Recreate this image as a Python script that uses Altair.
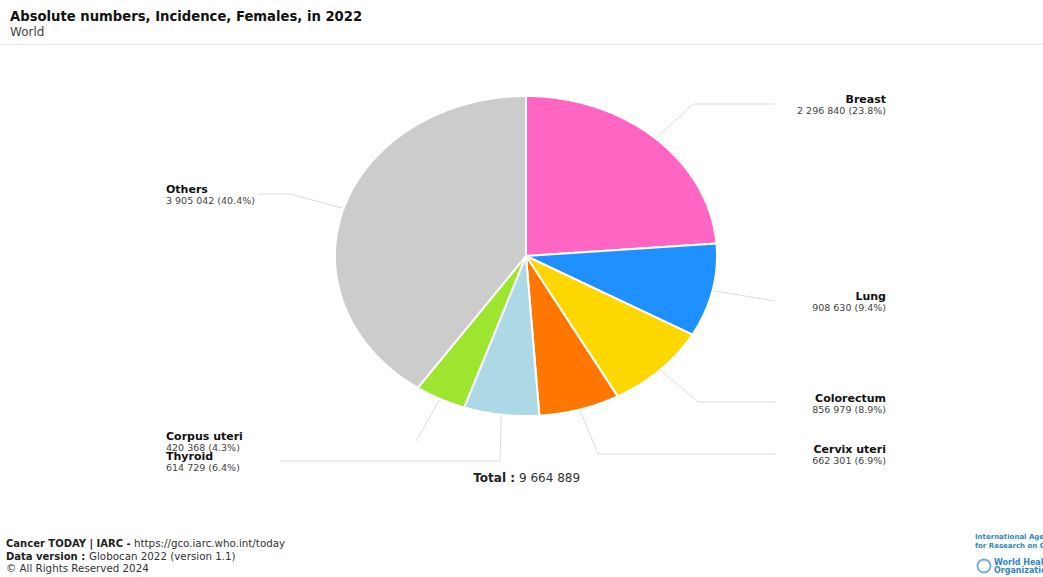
import altair as alt
import pandas as pd

# ---------------- data ----------------
sites = ["Breast", "Lung", "Colorectum", "Cervix uteri", "Thyroid", "Corpus uteri", "Others"]
cases = [2296840, 908630, 856979, 662301, 614729, 420368, 3905042]
colors = ["#ff66c4", "#1e90ff", "#ffd700", "#ff7700", "#add8e6", "#9de52f", "#cccccc"]

total = sum(cases)
value_labels = [f"{v:,}".replace(",", " ") + f" ({v / total * 100:.1f}%)" for v in cases]
total_label = f"{total:,}".replace(",", " ")

# ---------------- layout (pixels) ----------------
W, H = 1043, 577
CX, CY, RX, RY = 526, 256, 191, 160
label_side = ["right", "right", "right", "right", "left", "left", "left"]
label_x = [886, 886, 886, 886, 166, 166, 166]
label_y = [100, 297, 399, 450, 457, 437, 190]
elbow_x = [693, 775, 698, 598, 500, 416, 290]
elbow_y = [104, 301, 402, 454, 461, 441, 194]
end_x = [775, 775, 775, 775, 280, 416, 258]
end_y = [104, 301, 402, 454, 461, 441, 194]

FONT = "DejaVu Sans"

df = pd.DataFrame({
    "site": sites, "cases": cases, "order": list(range(len(sites))),
    "vlabel": value_labels, "side": label_side,
    "lx": label_x, "ly": label_y,
    "ex": elbow_x, "ey": elbow_y, "fx": end_x, "fy": end_y,
})
df["ly2"] = df["ly"] + 11

X = alt.X("px:Q", scale=alt.Scale(domain=[0, W]), axis=None)
Y = alt.Y("py:Q", scale=alt.Scale(domain=[0, H], reverse=True), axis=None)

base = alt.Chart(df).transform_window(
    cum="sum(cases)", sort=[alt.SortField("order")], frame=[None, 0]
).transform_joinaggregate(
    tot="sum(cases)"
).transform_calculate(
    a0="2*PI*(datum.cum - datum.cases)/datum.tot",
    a1="2*PI*datum.cum/datum.tot",
)

slices = base.transform_calculate(
    step="sequence(-1, 121)"
).transform_flatten(["step"]).transform_calculate(
    ang="datum.a0 + (datum.a1 - datum.a0) * max(datum.step, 0) / 120",
    px=f"datum.step < 0 ? {CX} : {CX} + {RX} * sin(datum.ang)",
    py=f"datum.step < 0 ? {CY} : {CY} - {RY} * cos(datum.ang)",
).mark_line(
    filled=True, interpolate="linear-closed", stroke="white",
    strokeWidth=2, strokeJoin="round"
).encode(
    x=X, y=Y,
    fill=alt.Fill("site:N", scale=alt.Scale(domain=sites, range=colors), legend=None),
    detail="site:N",
    order=alt.Order("step:Q"),
)

leaders = base.transform_calculate(
    mid="(datum.a0 + datum.a1) / 2",
    pt="sequence(0, 3)",
).transform_flatten(["pt"]).transform_calculate(
    px=f"datum.pt == 0 ? {CX} + {RX} * sin(datum.mid) : (datum.pt == 1 ? datum.ex : datum.fx)",
    py=f"datum.pt == 0 ? {CY} - {RY} * cos(datum.mid) : (datum.pt == 1 ? datum.ey : datum.fy)",
).mark_line(color="#dcdcdc", strokeWidth=1).encode(
    x=X, y=Y, detail="site:N", order=alt.Order("pt:Q")
)

def side_labels(side, align):
    src = alt.Chart(df).transform_filter(alt.datum.side == side)
    names = src.mark_text(
        align=align, baseline="middle", font=FONT, fontSize=11,
        fontWeight="bold", color="#111111"
    ).encode(x=alt.X("lx:Q", scale=alt.Scale(domain=[0, W]), axis=None),
             y=alt.Y("ly:Q", scale=alt.Scale(domain=[0, H], reverse=True), axis=None),
             text="site:N")
    vals = src.mark_text(
        align=align, baseline="middle", font=FONT, fontSize=9.5, color="#444444"
    ).encode(x=alt.X("lx:Q", scale=alt.Scale(domain=[0, W]), axis=None),
             y=alt.Y("ly2:Q", scale=alt.Scale(domain=[0, H], reverse=True), axis=None),
             text="vlabel:N")
    return names + vals

one = pd.DataFrame({"k": [0]})

def note(text, x, y, size=10, weight="normal", color="#222222", align="left"):
    return alt.Chart(one).mark_text(
        text=text, align=align, baseline="middle", font=FONT, fontSize=size,
        fontWeight=weight, color=color
    ).encode(x=alt.value(x), y=alt.value(y))

sep = alt.Chart(one).mark_rule(color="#e3e3e3", strokeWidth=1).encode(
    x=alt.value(0), x2=alt.value(W), y=alt.value(44.5)
)

emblem = alt.Chart(one).mark_point(
    shape="circle", size=170, color="#3a8fd0", filled=False, strokeWidth=2
).encode(x=alt.value(984), y=alt.value(566))

chart = alt.layer(
    leaders, slices,
    side_labels("right", "right"), side_labels("left", "left"),
    note("Absolute numbers, Incidence, Females, in 2022", 10, 17, size=13.2, weight="bold", color="#111111"),
    note("World", 10, 32, size=12, color="#444444"),
    sep,
    note("Total :", 515, 478, size=12, weight="bold", color="#222222", align="right"),
    note(total_label, 519, 478, size=12, color="#333333"),
    note("Cancer TODAY | IARC -", 6, 544, weight="bold"),
    note("https://gco.iarc.who.int/today", 134, 544, size=10.3, color="#333333"),
    note("Data version :", 6, 557, weight="bold"),
    note("Globocan 2022 (version 1.1)", 89, 557, size=10.3, color="#333333"),
    note("\u00a9 All Rights Reserved 2024", 6, 569, size=10.3, color="#333333"),
    note("International Agency", 975, 537, size=7, weight="bold", color="#2f86c8"),
    note("for Research on Cancer", 975, 546, size=7, weight="bold", color="#2f86c8"),
    note("World Health", 994, 563, size=8, weight="bold", color="#2f86c8"),
    note("Organization", 994, 571, size=8, weight="bold", color="#2f86c8"),
    emblem,
).properties(
    width=W, height=H, padding=0, autosize=alt.AutoSizeParams(type="none"),
    background="white",
).configure_view(stroke=None)

chart.save("out.html", embed_options={"renderer": "svg", "actions": False})
